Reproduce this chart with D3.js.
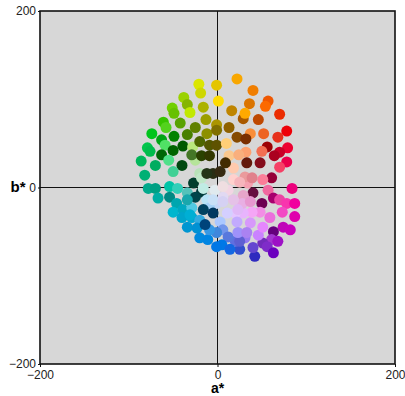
<!DOCTYPE html>
<html>
<head>
<meta charset="utf-8">
<script src="https://cdn.jsdelivr.net/npm/d3@7"></script>
<style>
  body { margin: 0; background: #fff; }
  text { font-family: "Liberation Sans", Arial, sans-serif; }
</style>
</head>
<body>
<svg id="chart" width="405" height="396"></svg>
<script>
// CIELAB samples: lightness, a*, b*
const sampleL = [88,83,78,68,87,70,75,70,63,60,70,75,50,68,47,48,58,58,80,68,65,35,32,87,40,35,35,
  80,75,65,89,60,58,63,60,47,78,47,52,62,45,70,60,52,50,38,30,47,86,33,63,50,42,35,75,84,22,78,28,50,57,30,68,75,22,22,63,37,57,50,58,52,48,60,65,45,45,20,45,40,35,38,30,28,40,38,58,50,66,70,72,72,78,80,84,85,74,80,62,55,52,50,45,48,
  86,88,88,88,85,75,78,72,65,80,
  35,80,25,60,62,60,75,86,86,58,55,70,75,60,48,72,60,65,62,75,60,62,55,65,55,52,52,60,22,22,88,82,25,22,25,88,90,45,25,22,18,20,18,20,92,90,25,62,88,85,82,72,80,65,45,65,62];
const sampleA = [-21,-19,-38,-34,-31,-16,-51,-49,-13,-42,-61,-58,-25,-74,-49,-34,-12,-63,-59,-79,-76,-50,-39,-28,-20,-9,-1,
  -1,22,40,1,36,57,54,16,29,31,46,70,-1,13,37,52,68,78,22,32,-1,10,56,50,79,70,64,32,13,33,24,48,78,70,61,51,34,40,50,57,63,70,84,78,87,87,73,59,74,82,63,61,68,51,56,63,42,40,25,31,20,46,51,37,48,39,29,20,11,22,3,6,-1,12,5,14,-1,
  18,18,12,6,-1,29,28,31,39,25,
  -63,-55,-40,-70,-86,-82,-50,-20,-25,-78,-70,-54,-45,-67,-54,-34,-46,-50,-39,-29,-40,-29,-34,-20,-23,-20,-11,-9,-18,-27,-12,-9,-16,-5,-14,-18,-16,-29,-18,-9,-5,-12,3,9,-3,6,-25,-34,-5,6,18,37,23,-31,25,23,33];
const sampleB = [117,107,102,94,85,91,90,84,77,73,74,68,68,61,58,60,61,54,48,45,41,42,47,46,52,48,48,
  116,123,110,98,95,98,92,87,78,84,77,83,71,68,61,61,57,64,57,55,65,50,46,41,45,40,36,40,36,28,37,28,29,23,11,9,5,-6,-18,-3,-12,-14,-1,-18,-18,-33,-28,-34,-45,-48,-50,-59,-61,-63,-67,-74,-78,-68,-70,-57,-61,-54,-45,-40,-28,-28,-29,-29,-29,-39,-39,-48,-51,-56,-65,-70,-67,
  22,9,-3,-11,-18,-9,-18,12,11,6,
  37,31,25,25,30,14,18,16,31,-1,-1,1,-1,-12,-11,-6,-18,-28,-25,-23,-34,-34,-45,-37,-46,-57,-59,-48,-5,5,-14,-23,-25,-29,-42,11,-1,37,36,36,16,16,18,28,-3,1,-11,-14,-14,-16,-14,-16,-25,-31,-61,-51,-51];

const axisTicks = [-200, 0, 200];

const plot = { left: 40, right: 395, top: 11, bottom: 364 };

const svg = d3.select('#chart');

const x = d3.scaleLinear().domain([-200, 200]).range([plot.left, plot.right]);
const y = d3.scaleLinear().domain([-200, 200]).range([plot.bottom, plot.top]);

// plot background
svg.append('rect')
  .attr('x', plot.left)
  .attr('y', plot.top)
  .attr('width', plot.right - plot.left)
  .attr('height', plot.bottom - plot.top)
  .style('fill', '#d7d7d7');

// zero lines
svg.append('line')
  .attr('x1', x(0)).attr('x2', x(0))
  .attr('y1', plot.top).attr('y2', plot.bottom)
  .style('stroke', '#111').style('stroke-width', 1);
svg.append('line')
  .attr('x1', plot.left).attr('x2', plot.right)
  .attr('y1', y(0)).attr('y2', y(0))
  .style('stroke', '#111').style('stroke-width', 1);

// samples, each drawn in its own Lab colour
const samples = sampleL.map((L, i) => ({ L, a: sampleA[i], b: sampleB[i] }));

svg.append('g')
  .selectAll('circle')
  .data(samples)
  .enter()
    .append('circle')
    .attr('cx', d => x(d.a))
    .attr('cy', d => y(d.b))
    .attr('r', 5.5)
    .style('fill', d => d3.lab(d.L, d.a, d.b).formatHex());

// frame
svg.append('rect')
  .attr('x', plot.left)
  .attr('y', plot.top)
  .attr('width', plot.right - plot.left)
  .attr('height', plot.bottom - plot.top)
  .style('fill', 'none')
  .style('stroke', '#111')
  .style('stroke-width', 1.6);

// axes
const xAxis = svg.append('g')
  .attr('transform', `translate(0,${plot.bottom})`)
  .call(d3.axisBottom(x).tickValues(axisTicks).tickSize(3).tickPadding(3).tickFormat(d3.format('d')));
const yAxis = svg.append('g')
  .attr('transform', `translate(${plot.left},0)`)
  .call(d3.axisLeft(y).tickValues(axisTicks).tickSize(2).tickPadding(2).tickFormat(d3.format('d')));

[xAxis, yAxis].forEach(g => {
  g.select('.domain').remove();
  g.selectAll('text').style('font-size', '12px').style('fill', '#222')
    .style('font-family', '"Liberation Sans", Arial, sans-serif');
  g.selectAll('line').style('stroke', '#111');
});

// axis titles
svg.append('text')
  .attr('x', x(0))
  .attr('y', 393)
  .attr('text-anchor', 'middle')
  .style('font-size', '14px')
  .style('font-weight', 'bold')
  .text('a*');
svg.append('text')
  .attr('x', 18)
  .attr('y', y(0) + 4)
  .attr('text-anchor', 'middle')
  .style('font-size', '15px')
  .style('font-weight', 'bold')
  .text('b*');
</script>
</body>
</html>
